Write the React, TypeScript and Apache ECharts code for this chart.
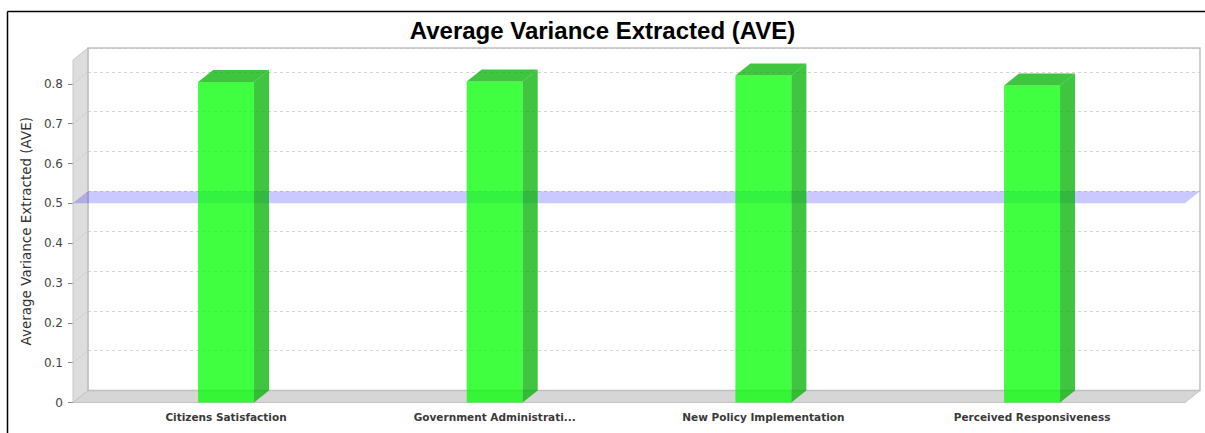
import React, { useEffect, useRef } from "react";
import * as echarts from "echarts";

const categories = [
  "Citizens Satisfaction",
  "Government Administrati...",
  "New Policy Implementation",
  "Perceived Responsiveness",
];
const aveValues = [0.805, 0.806, 0.821, 0.796];
const thresholdValue = 0.5;
const yTicks = [0, 0.1, 0.2, 0.3, 0.4, 0.5, 0.6, 0.7, 0.8];
const yMin = 0;
const yMax = 0.86;
const chartTitle = "Average Variance Extracted (AVE)";
const yAxisTitle = "Average Variance Extracted (AVE)";

const DX = 15;
const DY = 12;
const GRID_TOP = 60;
const GRID_H = 342.5;

export default function App() {
  const ref = useRef<HTMLDivElement>(null);
  useEffect(() => {
    if (!ref.current) return;
    const chart = echarts.init(ref.current, null, { renderer: "svg" });
    const font = "DejaVu Sans";
    const option: any = {
      animation: false,
      backgroundColor: "#ffffff",
      title: {
        text: chartTitle,
        left: "center",
        top: 13,
        textStyle: {
          fontSize: 24,
          fontWeight: "bold",
          fontFamily: "Liberation Sans",
          color: "#000",
        },
      },
      grid: [
        { left: 73, top: GRID_TOP, width: 1112, height: GRID_H },
        { left: 73 + DX, top: GRID_TOP - DY, width: 1112, height: GRID_H },
        { left: 91.7, top: GRID_TOP, width: 1074.7, height: GRID_H },
      ],
      xAxis: [
        { type: "value", gridIndex: 0, min: 0, max: 1, show: false },
        { type: "value", gridIndex: 1, min: 0, max: 1, show: false },
        {
          type: "category",
          gridIndex: 2,
          data: categories,
          axisLine: { show: false },
          axisTick: { show: false },
          axisLabel: {
            fontSize: 10.5,
            fontWeight: "bold",
            fontFamily: font,
            color: "#3a3a3a",
            margin: 9,
          },
        },
      ],
      yAxis: [
        {
          type: "value",
          gridIndex: 0,
          min: yMin,
          max: yMax,
          interval: 0.1,
          name: yAxisTitle,
          nameLocation: "middle",
          nameGap: 31,
          nameTextStyle: { fontSize: 13.5, fontFamily: font, color: "#333" },
          axisLine: { show: false },
          axisTick: {
            show: true,
            length: 5,
            customValues: yTicks,
            lineStyle: { color: "#888" },
          },
          axisLabel: {
            fontSize: 12,
            fontFamily: font,
            color: "#444",
            margin: 10,
            customValues: yTicks,
            formatter: (v: number) => (v > 0.81 ? "" : String(Math.round(v * 10) / 10)),
          },
          splitLine: { show: false },
        },
        {
          type: "value",
          gridIndex: 1,
          min: yMin,
          max: yMax,
          interval: 0.1,
          axisLine: { show: false },
          axisTick: { show: false },
          axisLabel: { show: false },
          splitLine: {
            show: true,
            lineStyle: { color: "#d6d6d6", type: [3, 3], width: 1 },
          },
        },
        {
          type: "value",
          gridIndex: 2,
          min: yMin,
          max: yMax,
          show: false,
        },
      ],
      graphic: [
        {
          type: "line",
          z: 100,
          shape: { x1: 7.5, y1: 11.5, x2: 1205, y2: 11.5 },
          style: { stroke: "#000", lineWidth: 1.5 },
        },
        {
          type: "line",
          z: 100,
          shape: { x1: 7.5, y1: 11.5, x2: 7.5, y2: 433 },
          style: { stroke: "#000", lineWidth: 1.5 },
        },
      ],
      series: [
        {
          type: "custom",
          name: "walls",
          xAxisIndex: 0,
          yAxisIndex: 0,
          z: 1,
          silent: true,
          clip: false,
          data: [[0, 0]],
          renderItem: (params: any, api: any) => {
            const b0 = api.coord([0, yMin]);
            const t0 = api.coord([0, yMax]);
            const b1 = api.coord([1, yMin]);
            const children: any[] = [];
            children.push({
              type: "polygon",
              shape: {
                points: [
                  [b0[0], b0[1]],
                  [t0[0], t0[1]],
                  [t0[0] + DX, t0[1] - DY],
                  [b0[0] + DX, b0[1] - DY],
                ],
              },
              style: { fill: "#dddddd", stroke: "#c8c8c8", lineWidth: 1 },
            });
            children.push({
              type: "polygon",
              shape: {
                points: [
                  [b0[0], b0[1]],
                  [b0[0] + DX, b0[1] - DY],
                  [b1[0] + DX, b1[1] - DY],
                  [b1[0], b1[1]],
                ],
              },
              style: { fill: "#d6d6d6", stroke: "#c4c4c4", lineWidth: 1 },
            });
            for (const t of yTicks) {
              if (t === 0) continue;
              const p = api.coord([0, t]);
              children.push({
                type: "line",
                shape: { x1: p[0], y1: p[1], x2: p[0] + DX, y2: p[1] - DY },
                style: { stroke: "#c6c6c6", lineWidth: 1, lineDash: [2, 2] },
              });
            }
            children.push({
              type: "rect",
              shape: {
                x: t0[0] + DX,
                y: t0[1] - DY,
                width: b1[0] - b0[0],
                height: b0[1] - t0[1],
              },
              style: { fill: "none", stroke: "#c0c0c0", lineWidth: 1.5 },
            });
            return { type: "group", children };
          },
        },
        {
          type: "custom",
          name: "threshold",
          xAxisIndex: 0,
          yAxisIndex: 0,
          z: 2,
          silent: true,
          clip: false,
          data: [[0, thresholdValue]],
          renderItem: (params: any, api: any) => {
            const v = api.value(1);
            const a = api.coord([0, v]);
            const b = api.coord([1, v]);
            return {
              type: "polygon",
              shape: {
                points: [
                  [a[0], a[1]],
                  [a[0] + DX, a[1] - DY],
                  [b[0] + DX, b[1] - DY],
                  [b[0], b[1]],
                ],
              },
              style: { fill: "rgba(0,0,255,0.21)" },
            };
          },
        },
        {
          type: "custom",
          name: "AVE",
          xAxisIndex: 2,
          yAxisIndex: 2,
          z: 3,
          clip: false,
          data: aveValues.map((v, i) => [i, v]),
          renderItem: (params: any, api: any) => {
            const idx = api.value(0);
            const val = api.value(1);
            const top = api.coord([idx, val]);
            const base = api.coord([idx, 0]);
            const w = api.size([1, 0])[0] * 0.2084;
            const xl = top[0] - w / 2;
            const xr = top[0] + w / 2;
            const yt = top[1];
            const yb = base[1];
            return {
              type: "group",
              children: [
                {
                  type: "rect",
                  shape: { x: xl, y: yt, width: w, height: yb - yt },
                  style: { fill: "rgba(0,255,0,0.75)" },
                },
                {
                  type: "polygon",
                  shape: {
                    points: [
                      [xl, yt],
                      [xl + DX, yt - DY],
                      [xr + DX, yt - DY],
                      [xr, yt],
                    ],
                  },
                  style: { fill: "rgba(0,178,0,0.75)" },
                },
                {
                  type: "polygon",
                  shape: {
                    points: [
                      [xr, yt],
                      [xr + DX, yt - DY],
                      [xr + DX, yb - DY],
                      [xr, yb],
                    ],
                  },
                  style: { fill: "rgba(0,178,0,0.75)" },
                },
              ],
            };
          },
        },
      ],
    };
    chart.setOption(option);
    return () => chart.dispose();
  }, []);
  return (
    <div
      ref={ref}
      style={{ position: "fixed", left: 0, top: 0, width: 1205, height: 433 }}
    />
  );
}
